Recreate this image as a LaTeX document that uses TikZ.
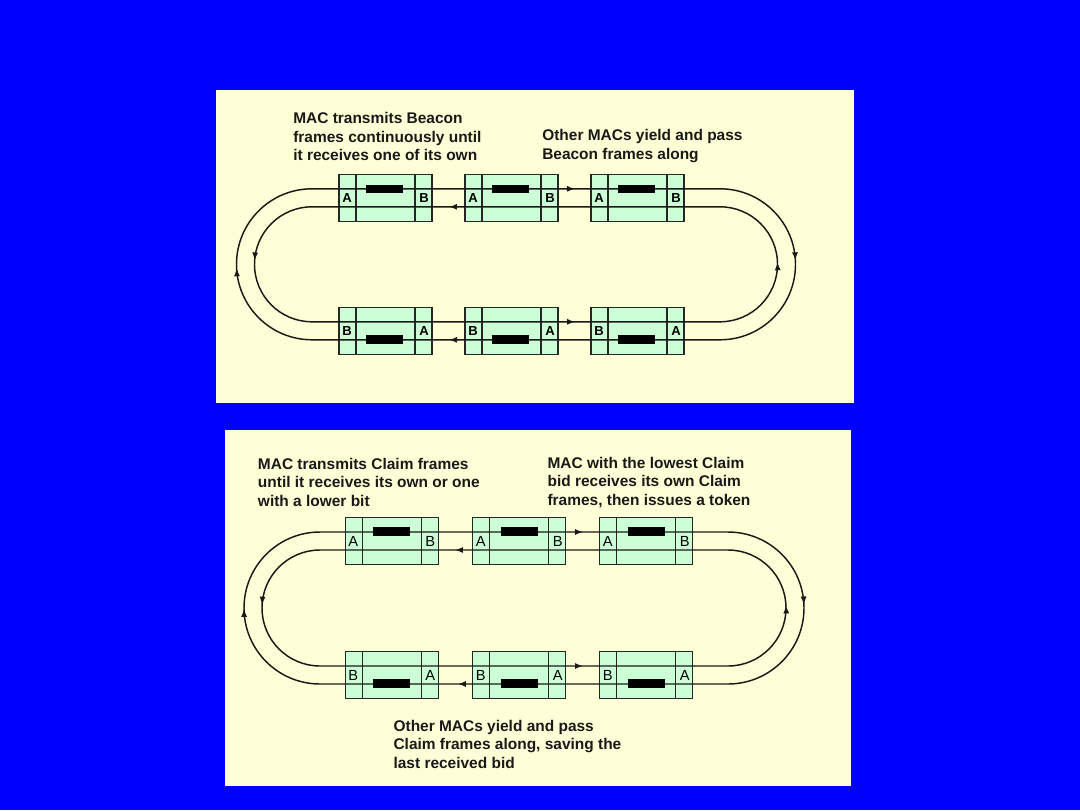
\documentclass[tikz,border=0pt]{standalone}
\usepackage{fontspec}
\setmainfont{Liberation Sans}
\usepackage{tikz}
\usetikzlibrary{arrows.meta,decorations.markings}
\definecolor{SlideBlue}{HTML}{0000FF}
\definecolor{PanelCream}{HTML}{FFFFD7}
\definecolor{StationGreen}{HTML}{CCFFD6}
\tikzset{
  station/.style={draw=black!85,fill=StationGreen,line width=0.8pt,
    minimum width=69.75pt,minimum height=35.25pt,inner sep=0pt,
    path picture={
      \draw[line width=0.8pt,black!85]
        ([xshift=12.75pt]path picture bounding box.north west) --
        ([xshift=12.75pt]path picture bounding box.south west);
      \draw[line width=0.8pt,black!85]
        ([xshift=-12.75pt]path picture bounding box.north east) --
        ([xshift=-12.75pt]path picture bounding box.south east);}},
  framebar/.style={fill=black,minimum width=27.75pt,minimum height=6.4pt,inner sep=0pt},
  portB/.style={font=\fontsize{9.8}{10}\selectfont\bfseries,inner sep=0pt},
  portR/.style={font=\fontsize{11}{11}\selectfont,inner sep=0pt},
  note/.style={font=\fontsize{11.6}{13.8}\selectfont\bfseries,align=left,
    anchor=north west,inner sep=0pt,text=black!90},
  rail/.style={line width=1.1pt,draw=black!90,postaction={decorate}},
  tip/.tip={Latex[length=6pt,width=4.6pt]},
}

\begin{document}
\begin{tikzpicture}[x=0.75pt,y=-0.75pt]
  \fill[SlideBlue] (0,0) rectangle (1080,810);
  \useasboundingbox (0,0) rectangle (1080,810);
  % Beacon panel
  \fill[PanelCream] (216,90) rectangle (854,403);
  \node[station] (t1) at (385.5,197.8) {};
  \node[station] (t2) at (511.5,197.8) {};
  \node[station] (t3) at (637.5,197.8) {};
  \node[station] (u1) at (385.5,330.8) {};
  \node[station] (u2) at (511.5,330.8) {};
  \node[station] (u3) at (637.5,330.8) {};
  \draw[rail,decoration={markings,
      mark=at position 0.2038 with {\arrow{tip}},
      mark=at position 0.405 with {\arrow{tip}},
      mark=at position 0.710 with {\arrow{tip}},
      mark=at position 0.905 with {\arrow{tip}}}]
    (312,188.8) -- (720,188.8) arc[start angle=-90,end angle=90,radius=75.5]
    -- (312,339.8) arc[start angle=90,end angle=270,radius=75.5] -- cycle;
  \draw[rail,decoration={markings,
      mark=at position 0.2302 with {\arrow{tip}},
      mark=at position 0.420 with {\arrow{tip}},
      mark=at position 0.7234 with {\arrow{tip}},
      mark=at position 0.925 with {\arrow{tip}}}]
    (720,206.8) -- (312,206.8) arc[start angle=-90,end angle=-270,radius=57.5]
    -- (720,321.8) arc[start angle=90,end angle=-90,radius=57.5] -- cycle;
  \node[framebar] (tb1) at (384.5,188.8) {};
  \node[framebar] (tb2) at (510.5,188.8) {};
  \node[framebar] (tb3) at (636.5,188.8) {};
  \node[framebar] (ub1) at (384.5,339.6) {};
  \node[framebar] (ub2) at (510.5,339.6) {};
  \node[framebar] (ub3) at (636.5,339.6) {};
  \node[portB] (t1a) at ([xshift=6.4pt]t1.west) {A};
  \node[portB] (t1b) at ([xshift=-6.4pt]t1.east) {B};
  \node[portB] (t2a) at ([xshift=6.4pt]t2.west) {A};
  \node[portB] (t2b) at ([xshift=-6.4pt]t2.east) {B};
  \node[portB] (t3a) at ([xshift=6.4pt]t3.west) {A};
  \node[portB] (t3b) at ([xshift=-6.4pt]t3.east) {B};
  \node[portB] (u1b) at ([xshift=6.4pt]u1.west) {B};
  \node[portB] (u1a) at ([xshift=-6.4pt]u1.east) {A};
  \node[portB] (u2b) at ([xshift=6.4pt]u2.west) {B};
  \node[portB] (u2a) at ([xshift=-6.4pt]u2.east) {A};
  \node[portB] (u3b) at ([xshift=6.4pt]u3.west) {B};
  \node[portB] (u3a) at ([xshift=-6.4pt]u3.east) {A};
  \node[note] (beaconsend) at (293,112.5) {MAC transmits Beacon\\frames continuously until\\it receives one of its own};
  \node[note] (beaconpass) at (542,129.5) {Other MACs yield and pass\\Beacon frames along};
  % Claim panel
  \fill[PanelCream] (225,430) rectangle (851,786);
  \node[station] (c1) at (391.7,541) {};
  \node[station] (c2) at (519.2,541) {};
  \node[station] (c3) at (646.3,541) {};
  \node[station] (d1) at (391.7,675) {};
  \node[station] (d2) at (519.2,675) {};
  \node[station] (d3) at (646.3,675) {};
  \draw[rail,decoration={markings,
      mark=at position 0.2033 with {\arrow{tip}},
      mark=at position 0.405 with {\arrow{tip}},
      mark=at position 0.7088 with {\arrow{tip}},
      mark=at position 0.907 with {\arrow{tip}}}]
    (320,532) -- (728,532) arc[start angle=-90,end angle=90,radius=76]
    -- (320,684) arc[start angle=90,end angle=270,radius=76] -- cycle;
  \draw[rail,decoration={markings,
      mark=at position 0.2313 with {\arrow{tip}},
      mark=at position 0.420 with {\arrow{tip}},
      mark=at position 0.7228 with {\arrow{tip}},
      mark=at position 0.925 with {\arrow{tip}}}]
    (728,550) -- (320,550) arc[start angle=-90,end angle=-270,radius=58]
    -- (728,666) arc[start angle=90,end angle=-90,radius=58] -- cycle;
  \node[framebar] (cb1) at (391.7,531.7) {};
  \node[framebar] (cb2) at (519.2,531.7) {};
  \node[framebar] (cb3) at (646.3,531.7) {};
  \node[framebar] (db1) at (391.7,683.4) {};
  \node[framebar] (db2) at (519.2,683.4) {};
  \node[framebar] (db3) at (646.3,683.4) {};
  \node[portR] (c1a) at ([xshift=6.4pt]c1.west) {A};
  \node[portR] (c1b) at ([xshift=-6.4pt]c1.east) {B};
  \node[portR] (c2a) at ([xshift=6.4pt]c2.west) {A};
  \node[portR] (c2b) at ([xshift=-6.4pt]c2.east) {B};
  \node[portR] (c3a) at ([xshift=6.4pt]c3.west) {A};
  \node[portR] (c3b) at ([xshift=-6.4pt]c3.east) {B};
  \node[portR] (d1b) at ([xshift=6.4pt]d1.west) {B};
  \node[portR] (d1a) at ([xshift=-6.4pt]d1.east) {A};
  \node[portR] (d2b) at ([xshift=6.4pt]d2.west) {B};
  \node[portR] (d2a) at ([xshift=-6.4pt]d2.east) {A};
  \node[portR] (d3b) at ([xshift=6.4pt]d3.west) {B};
  \node[portR] (d3a) at ([xshift=-6.4pt]d3.east) {A};
  \node[note] (claimsend) at (257.7,458) {MAC transmits Claim frames\\until it receives its own or one\\with a lower bit};
  \node[note] (claimwin) at (547.3,457) {MAC with the lowest Claim\\bid receives its own Claim\\frames, then issues a token};
  \node[note] (claimpass) at (393.3,720) {Other MACs yield and pass\\Claim frames along, saving the\\last received bid};
\end{tikzpicture}
\end{document}
